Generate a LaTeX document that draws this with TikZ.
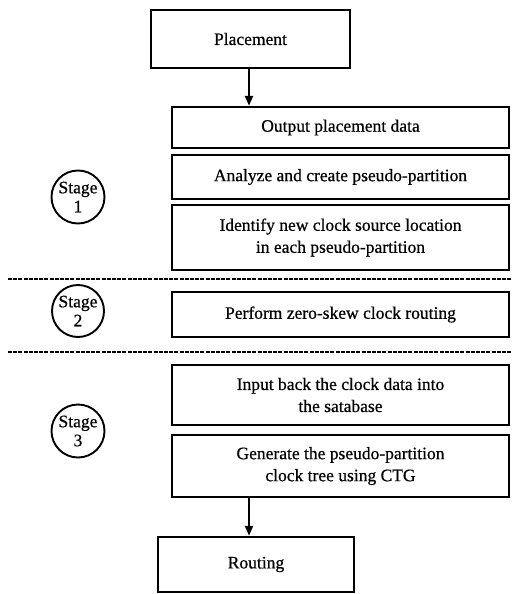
\documentclass[tikz,border=0pt]{standalone}
\usepackage{fontspec}
\setmainfont{Liberation Serif}[FakeBold=0.6,UprightFeatures={FakeBold=0.6}]
\usetikzlibrary{arrows.meta}
\begin{document}
\begin{tikzpicture}[x=1pt,y=-1pt,
  box/.style={draw,line width=2.4pt,inner sep=0pt,align=center,
    font=\fontsize{17.5}{22}\selectfont},
  stagec/.style={draw,circle,line width=1.9pt,inner sep=0pt,minimum size=53pt,
    align=center,font=\fontsize{17.5}{19}\selectfont},
  sep/.style={line width=1.9pt,dash pattern=on 4pt off 1.2pt},
  flow/.style={line width=2.2pt,-{Triangle[width=8pt,length=10pt]}}]
\useasboundingbox (0,0) rectangle (512,594);
\node[box,minimum width=199pt,minimum height=58pt] (P) at (250.5,39) {Placement};
\node[box,minimum width=337pt,minimum height=41pt] (O) at (340.5,127.5) {Output placement data};
\node[box,minimum width=337pt,minimum height=44pt] (A) at (340.5,177) {Analyze and create pseudo-partition};
\node[box,minimum width=337pt,minimum height=65pt] (I) at (340.5,237.5) {Identify new clock source location\\in each pseudo-partition};
\node[box,minimum width=337pt,minimum height=45pt] (Z) at (340.5,314.5) {Perform zero-skew clock routing};
\node[box,minimum width=337pt,minimum height=60pt] (B) at (340.5,395) {Input back the clock data into\\the satabase};
\node[box,minimum width=337pt,minimum height=62pt] (G) at (340.5,466) {Generate the pseudo-partition\\clock tree using CTG};
\node[box,minimum width=196pt,minimum height=55pt] (R) at (256,564.5) {Routing};
\node[stagec] (S1) at (78,197) {Stage\\1};
\node[stagec,minimum size=52pt] (S2) at (78,311) {Stage\\2};
\node[stagec] (S3) at (78,431) {Stage\\3};
\coordinate (L1a) at (8,279);
\coordinate (L1b) at (512,279);
\coordinate (L2a) at (8,352);
\coordinate (L2b) at (512,352);
\draw[sep] (L1a) -- (L1b);
\draw[sep] (L2a) -- (L2b);
\draw[flow] ([xshift=-1.5pt]P.south) -- ([xshift=-1.5pt]P.south |- O.north);
\draw[flow] ([xshift=-1.5pt]P.south |- G.south) -- ([xshift=-1.5pt]P.south |- R.north);
\end{tikzpicture}
\end{document}
